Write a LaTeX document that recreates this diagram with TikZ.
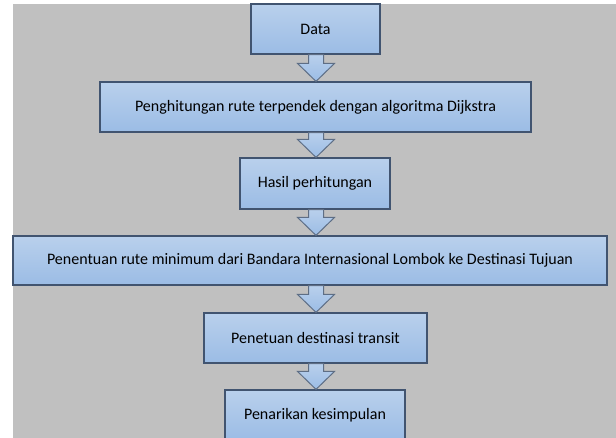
\documentclass[tikz,border=0pt]{standalone}
\usepackage{fontspec}
\setmainfont{Carlito}
\usetikzlibrary{calc}
\definecolor{bggray}{RGB}{192,192,192}
\definecolor{boxtop}{RGB}{185,208,236}
\definecolor{boxbot}{RGB}{155,188,229}
\definecolor{boxline}{RGB}{65,84,112}
\newcommand{\blockarrow}[2]{%
  \draw[blockarr] ($(axis |- #1.south)+(-7.5,0)$) -- ($(axis |- #1.south)+(7.5,0)$)
    -- ($(axis |- #2.north)+(7.5,-18)$) -- ($(axis |- #2.north)+(18.5,-18)$)
    -- (axis |- #2.north) -- ($(axis |- #2.north)+(-18.5,-18)$)
    -- ($(axis |- #2.north)+(-7.5,-18)$) -- cycle;}
\begin{document}
\begin{tikzpicture}[x=1bp,y=-1bp,
  box/.style={draw=boxline,line width=1.2bp,top color=boxtop,bottom color=boxbot,
    minimum height=50bp,inner sep=0pt,font=\fontsize{16bp}{19bp}\selectfont},
  blockarr/.style={draw=boxline!85,line width=1bp,top color=boxtop,bottom color=boxbot}]
\useasboundingbox (0,0) rectangle (616,438);
\clip (0,0) rectangle (616,438);
\fill[bggray] (12.7,4) rectangle (616,438);
\coordinate (axis) at (316,0);

\node[box,minimum width=129bp] (data) at (315.5,29) {Data};
\node[box,minimum width=431bp] (hitung) at (315.5,107) {Penghitungan rute terpendek dengan algoritma Dijkstra};
\node[box,minimum width=150bp,minimum height=51bp] (hasil) at (315,183.5) {Hasil perhitungan};
\node[box,minimum width=594bp,minimum height=49bp] (rute) at (310,260.5) {Penentuan rute minimum dari Bandara Internasional Lombok ke Destinasi Tujuan};
\node[box,minimum width=223bp] (transit) at (315.5,338) {Penetuan destinasi transit};
\node[box,minimum width=180bp] (simpul) at (315,415) {Penarikan kesimpulan};

\blockarrow{data}{hitung}
\blockarrow{hitung}{hasil}
\blockarrow{hasil}{rute}
\blockarrow{rute}{transit}
\blockarrow{transit}{simpul}

\end{tikzpicture}
\end{document}
